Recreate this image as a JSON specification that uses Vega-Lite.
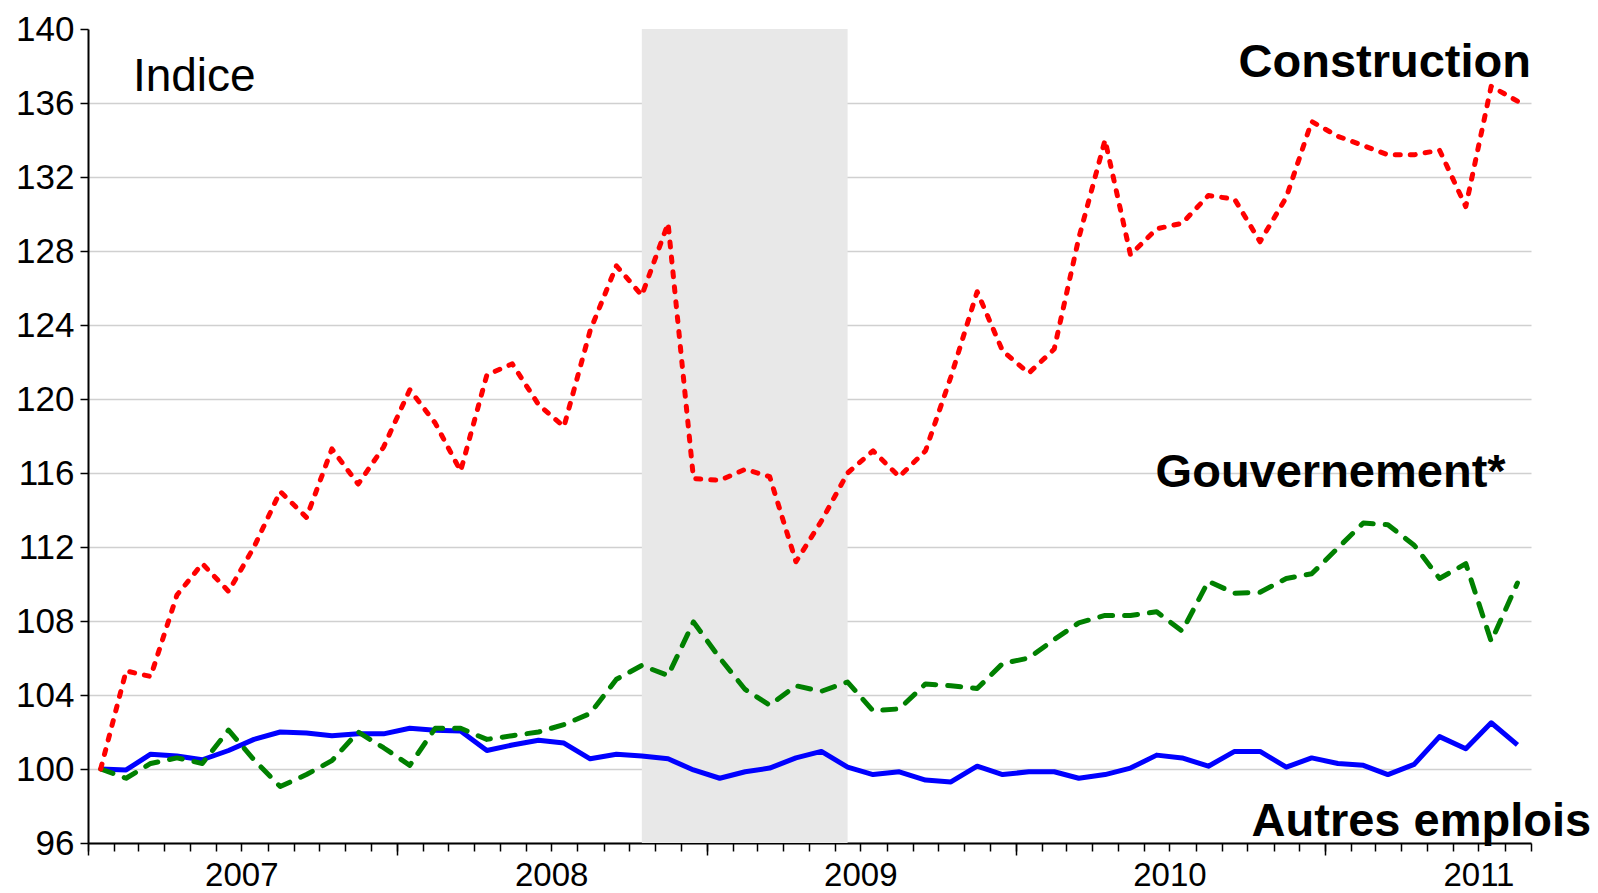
{
  "$schema": "https://vega.github.io/schema/vega-lite/v6.json",
  "width": 1443,
  "height": 814,
  "autosize": {"type": "none"},
  "padding": {"left": 88, "top": 29, "right": 67, "bottom": 50},
  "background": "white",
  "config": {
    "view": {"stroke": null},
    "axis": {"labelFont": "Liberation Sans", "labelColor": "black", "tickColor": "black", "domainColor": "black"}
  },
  "datasets": {
    "series": [
      {"d": "2007-01-16", "c": 100, "g": 100, "a": 100},
      {"d": "2007-02-15", "c": 105.3, "g": 99.5, "a": 99.95},
      {"d": "2007-03-16", "c": 105.0, "g": 100.3, "a": 100.8},
      {"d": "2007-04-16", "c": 109.4, "g": 100.6, "a": 100.7},
      {"d": "2007-05-16", "c": 111.1, "g": 100.3, "a": 100.5},
      {"d": "2007-06-16", "c": 109.6, "g": 102.1, "a": 101.0},
      {"d": "2007-07-16", "c": 112.0, "g": 100.5, "a": 101.6},
      {"d": "2007-08-16", "c": 115.0, "g": 99.05, "a": 102.0},
      {"d": "2007-09-16", "c": 113.6, "g": 99.7, "a": 101.95},
      {"d": "2007-10-16", "c": 117.3, "g": 100.45, "a": 101.8},
      {"d": "2007-11-16", "c": 115.4, "g": 102.0, "a": 101.9},
      {"d": "2007-12-16", "c": 117.4, "g": 101.15, "a": 101.9},
      {"d": "2008-01-16", "c": 120.5, "g": 100.2, "a": 102.2},
      {"d": "2008-02-15", "c": 118.7, "g": 102.2, "a": 102.1},
      {"d": "2008-03-16", "c": 116.1, "g": 102.2, "a": 102.05},
      {"d": "2008-04-16", "c": 121.3, "g": 101.6, "a": 101.0},
      {"d": "2008-05-16", "c": 121.9, "g": 101.8, "a": 101.3},
      {"d": "2008-06-16", "c": 119.7, "g": 102.0, "a": 101.55},
      {"d": "2008-07-16", "c": 118.5, "g": 102.4, "a": 101.4},
      {"d": "2008-08-16", "c": 123.7, "g": 103.0, "a": 100.55},
      {"d": "2008-09-16", "c": 127.2, "g": 104.85, "a": 100.8},
      {"d": "2008-10-16", "c": 125.6, "g": 105.6, "a": 100.7},
      {"d": "2008-11-16", "c": 129.5, "g": 105.05, "a": 100.55},
      {"d": "2008-12-16", "c": 115.7, "g": 107.95, "a": 99.95},
      {"d": "2009-01-16", "c": 115.6, "g": 106.0, "a": 99.5},
      {"d": "2009-02-15", "c": 116.2, "g": 104.3, "a": 99.85},
      {"d": "2009-03-16", "c": 115.8, "g": 103.45, "a": 100.05},
      {"d": "2009-04-16", "c": 111.2, "g": 104.5, "a": 100.6},
      {"d": "2009-05-16", "c": 113.4, "g": 104.2, "a": 100.95},
      {"d": "2009-06-16", "c": 116.0, "g": 104.7, "a": 100.1},
      {"d": "2009-07-16", "c": 117.2, "g": 103.15, "a": 99.7},
      {"d": "2009-08-16", "c": 115.8, "g": 103.25, "a": 99.85},
      {"d": "2009-09-16", "c": 117.2, "g": 104.6, "a": 99.4},
      {"d": "2009-10-16", "c": 121.2, "g": 104.5, "a": 99.3},
      {"d": "2009-11-16", "c": 125.8, "g": 104.35, "a": 100.15},
      {"d": "2009-12-16", "c": 122.6, "g": 105.7, "a": 99.7},
      {"d": "2010-01-16", "c": 121.4, "g": 106.0, "a": 99.85},
      {"d": "2010-02-15", "c": 122.7, "g": 107.0, "a": 99.85},
      {"d": "2010-03-16", "c": 128.7, "g": 107.9, "a": 99.5},
      {"d": "2010-04-16", "c": 134.0, "g": 108.3, "a": 99.7},
      {"d": "2010-05-16", "c": 127.8, "g": 108.3, "a": 100.05},
      {"d": "2010-06-16", "c": 129.2, "g": 108.5, "a": 100.75},
      {"d": "2010-07-16", "c": 129.5, "g": 107.45, "a": 100.6},
      {"d": "2010-08-16", "c": 131.0, "g": 110.15, "a": 100.15},
      {"d": "2010-09-16", "c": 130.8, "g": 109.5, "a": 100.95},
      {"d": "2010-10-16", "c": 128.5, "g": 109.55, "a": 100.95},
      {"d": "2010-11-16", "c": 130.9, "g": 110.3, "a": 100.1},
      {"d": "2010-12-16", "c": 135.0, "g": 110.55, "a": 100.6},
      {"d": "2011-01-16", "c": 134.2, "g": 111.95, "a": 100.3},
      {"d": "2011-02-15", "c": 133.7, "g": 113.3, "a": 100.2},
      {"d": "2011-03-16", "c": 133.2, "g": 113.2, "a": 99.7},
      {"d": "2011-04-16", "c": 133.2, "g": 112.1, "a": 100.25},
      {"d": "2011-05-16", "c": 133.45, "g": 110.3, "a": 101.75},
      {"d": "2011-06-16", "c": 130.4, "g": 111.1, "a": 101.1},
      {"d": "2011-07-16", "c": 136.9, "g": 106.9, "a": 102.5},
      {"d": "2011-08-16", "c": 136.1, "g": 110.05, "a": 101.3}
    ],
    "recession": [{"start": "2008-10-16", "end": "2009-06-16"}],
    "labelsRight": [
      {"d": "2011-09-01", "v": 137.38, "t": "Construction"},
      {"d": "2011-08-02", "v": 115.26, "t": "Gouvernement*"},
      {"d": "2011-11-11", "v": 96.4, "t": "Autres emplois"}
    ],
    "labelsLeft": [{"d": "2007-02-23", "v": 136.67, "t": "Indice"}]
  },
  "resolve": {"axis": {"x": "independent"}},
  "layer": [
    {
      "data": {"name": "recession"},
      "mark": {"type": "rect", "color": "#e8e8e8"},
      "encoding": {
        "x": {
          "field": "start", "type": "temporal", "title": null,
          "scale": {"type": "utc", "domain": [{"year": 2007, "month": 1, "date": 1, "utc": true}, {"year": 2011, "month": 9, "date": 1, "utc": true}]},
          "axis": {"orient": "bottom", "offset": 0, "tickCount": {"interval": "month", "step": 1}, "labels": false, "grid": false, "tickSize": 8, "tickWidth": 1.5, "domain": true, "domainWidth": 2, "domainColor": "black"}
        },
        "x2": {"field": "end"}
      }
    },
    {
      "data": {"name": "series"},
      "mark": {"type": "line", "color": "#0000ff", "strokeWidth": 5, "strokeJoin": "round"},
      "encoding": {
        "x": {
          "field": "d", "type": "temporal", "title": null,
          "axis": {"orient": "bottom", "offset": 0, "tickCount": {"interval": "year", "step": 1}, "labels": false, "grid": false, "tickSize": 12, "tickWidth": 1.5, "domain": false}
        },
        "y": {
          "field": "a", "type": "quantitative", "title": null,
          "scale": {"domain": [96, 140], "nice": false, "zero": false},
          "axis": {"values": [96, 100, 104, 108, 112, 116, 120, 124, 128, 132, 136, 140], "labelFontSize": 35, "labelPadding": 6, "tickSize": 8, "tickWidth": 1.5, "domainWidth": 2, "grid": true, "gridColor": {"condition": {"test": "datum.value >= 139", "value": "rgba(0,0,0,0)"}, "value": "#d0d0d0"}, "gridWidth": 1.5}
        }
      }
    },
    {
      "data": {"name": "series"},
      "mark": {"type": "line", "color": "#008000", "strokeWidth": 5, "strokeDash": [13, 12], "strokeCap": "round", "strokeJoin": "round"},
      "encoding": {
        "x": {
          "field": "d", "type": "temporal", "title": null,
          "axis": {"orient": "bottom", "offset": 0, "values": [{"year": 2007, "month": 7, "date": 1, "utc": true}, {"year": 2008, "month": 7, "date": 1, "utc": true}, {"year": 2009, "month": 7, "date": 1, "utc": true}, {"year": 2010, "month": 7, "date": 1, "utc": true}, {"year": 2011, "month": 7, "date": 1, "utc": true}], "format": "%Y", "ticks": false, "domain": false, "grid": false, "labelFontSize": 33, "labelPadding": 16}
        },
        "y": {"field": "g", "type": "quantitative", "title": null}
      }
    },
    {
      "data": {"name": "series"},
      "mark": {"type": "line", "color": "#ff0000", "strokeWidth": 5, "strokeDash": [5, 10], "strokeCap": "round", "strokeJoin": "round"},
      "encoding": {
        "x": {"field": "d", "type": "temporal", "title": null, "axis": null},
        "y": {"field": "c", "type": "quantitative", "title": null}
      }
    },
    {
      "data": {"name": "labelsRight"},
      "mark": {"type": "text", "align": "right", "baseline": "alphabetic", "font": "Liberation Sans", "fontWeight": "bold", "fontSize": 47, "color": "black"},
      "encoding": {
        "x": {"field": "d", "type": "temporal", "title": null, "axis": null},
        "y": {"field": "v", "type": "quantitative", "title": null},
        "text": {"field": "t"}
      }
    },
    {
      "data": {"name": "labelsLeft"},
      "mark": {"type": "text", "align": "left", "baseline": "alphabetic", "font": "Liberation Sans", "fontSize": 46, "color": "black"},
      "encoding": {
        "x": {"field": "d", "type": "temporal", "title": null, "axis": null},
        "y": {"field": "v", "type": "quantitative", "title": null},
        "text": {"field": "t"}
      }
    }
  ]
}
